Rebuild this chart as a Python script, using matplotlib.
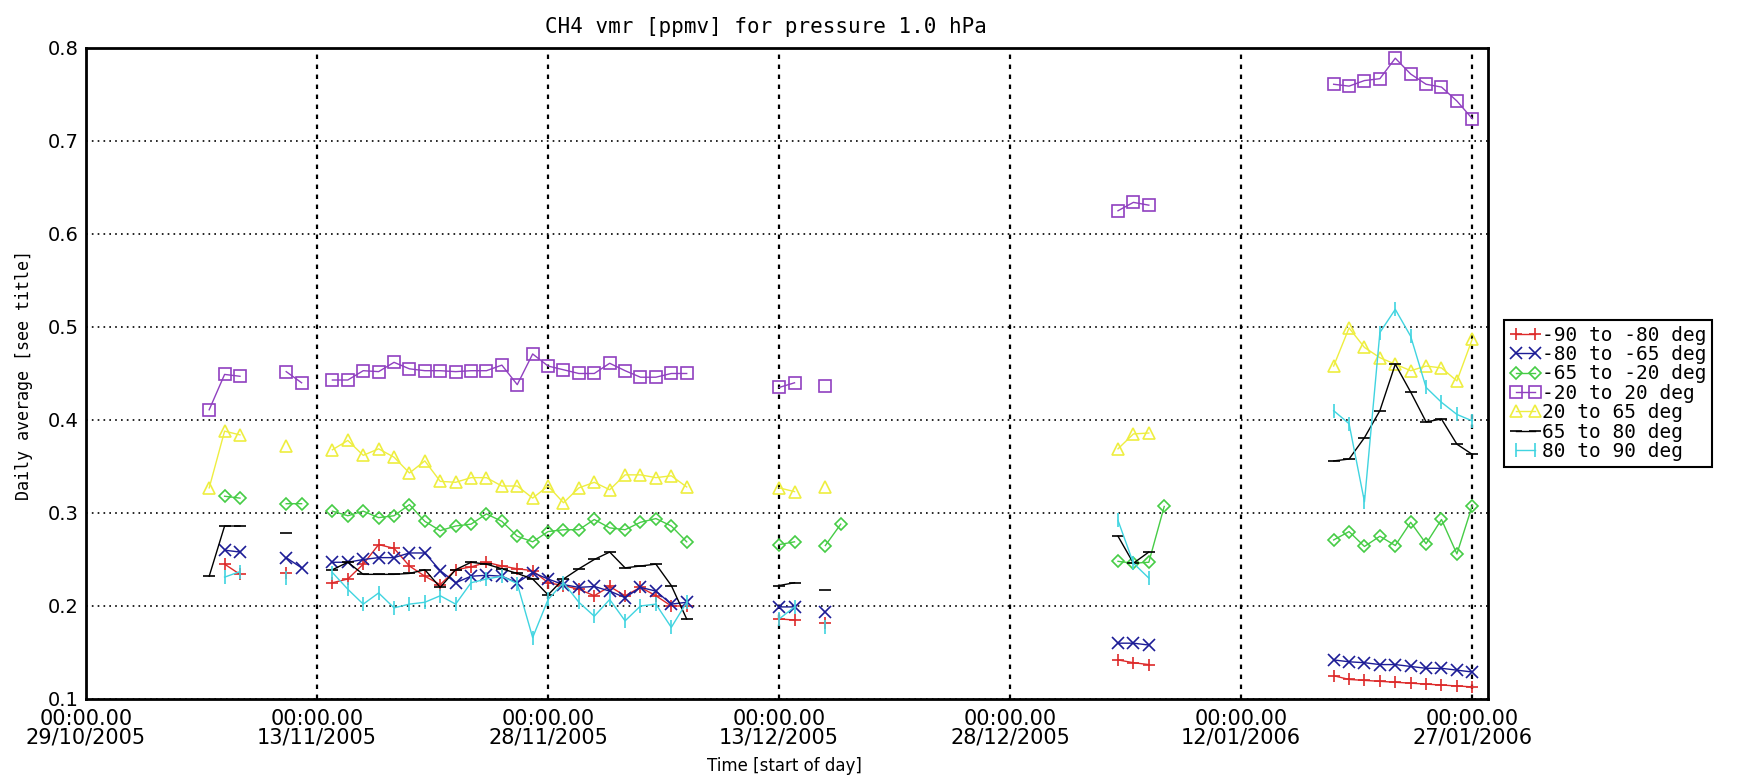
import numpy as np
import matplotlib
matplotlib.use('Agg')
import matplotlib.pyplot as plt

# Days counted from 29/10/2005 00:00
tick_days = [0, 15, 30, 45, 60, 75, 90]
tick_labels = ['00:00.00\n29/10/2005', '00:00.00\n13/11/2005', '00:00.00\n28/11/2005',
               '00:00.00\n13/12/2005', '00:00.00\n28/12/2005', '00:00.00\n12/01/2006',
               '00:00.00\n27/01/2006']
y_ticks = [0.1, 0.2, 0.3, 0.4, 0.5, 0.6, 0.7, 0.8]

nov = list(range(16, 40))
jan = list(range(81, 91))

# -90 to -80 deg
red_days = [9, 10, 13] + nov + [45, 46, 48, 67, 68, 69] + jan
red_vals = [0.245, 0.234, 0.236,
            0.225, 0.229, 0.245, 0.266, 0.262, 0.243, 0.232, 0.223, 0.239, 0.242,
            0.247, 0.243, 0.240, 0.238, 0.225, 0.222, 0.218, 0.211, 0.221, 0.211,
            0.220, 0.211, 0.200, 0.200,
            0.186, 0.185, 0.182, 0.142, 0.139, 0.137,
            0.125, 0.121, 0.120, 0.119, 0.118, 0.117, 0.116, 0.115, 0.114, 0.113]

# -80 to -65 deg
blue_days = [9, 10, 13, 14] + nov + [45, 46, 48, 67, 68, 69] + jan
blue_vals = [0.260, 0.258, 0.252, 0.241,
             0.247, 0.247, 0.250, 0.252, 0.252, 0.257, 0.257, 0.238, 0.225, 0.232,
             0.233, 0.232, 0.225, 0.236, 0.229, 0.223, 0.220, 0.221, 0.216, 0.209,
             0.220, 0.216, 0.202, 0.204,
             0.199, 0.199, 0.194, 0.160, 0.160, 0.158,
             0.142, 0.140, 0.139, 0.137, 0.137, 0.135, 0.133, 0.133, 0.131, 0.129]

# -65 to -20 deg
green_days = [9, 10, 13, 14] + nov + [45, 46, 48, 49, 67, 68, 69, 70] + jan
green_vals = [0.318, 0.316, 0.310, 0.310,
              0.302, 0.297, 0.302, 0.295, 0.297, 0.309, 0.291, 0.281, 0.286, 0.288,
              0.299, 0.291, 0.275, 0.269, 0.280, 0.282, 0.282, 0.293, 0.284, 0.282,
              0.290, 0.294, 0.286, 0.269,
              0.266, 0.269, 0.265, 0.288, 0.248, 0.246, 0.247, 0.307,
              0.271, 0.280, 0.264, 0.275, 0.265, 0.290, 0.267, 0.293, 0.256, 0.308]

# -20 to 20 deg
purple_days = [8, 9, 10, 13, 14] + nov + [45, 46, 48, 67, 68, 69] + jan
purple_vals = [0.411, 0.449, 0.447, 0.452, 0.440,
               0.443, 0.443, 0.453, 0.452, 0.462, 0.455, 0.453, 0.453, 0.452, 0.453,
               0.453, 0.459, 0.438, 0.471, 0.458, 0.454, 0.450, 0.450, 0.461, 0.453,
               0.446, 0.446, 0.450, 0.450,
               0.435, 0.440, 0.437, 0.625, 0.634, 0.631,
               0.761, 0.759, 0.765, 0.767, 0.789, 0.772, 0.761, 0.758, 0.743, 0.724]

# 20 to 65 deg
yellow_days = [8, 9, 10, 13] + nov + [45, 46, 48, 67, 68, 69] + jan
yellow_vals = [0.327, 0.388, 0.384, 0.372,
               0.368, 0.378, 0.362, 0.369, 0.360, 0.343, 0.356, 0.334, 0.333, 0.338,
               0.338, 0.329, 0.329, 0.316, 0.329, 0.311, 0.327, 0.333, 0.325, 0.341,
               0.341, 0.338, 0.340, 0.328,
               0.327, 0.323, 0.328, 0.369, 0.385, 0.386,
               0.458, 0.499, 0.478, 0.467, 0.460, 0.453, 0.458, 0.456, 0.442, 0.487]

# 65 to 80 deg
black_days = [8, 9, 10, 13] + nov + [45, 46, 48, 67, 68, 69] + jan
black_vals = [0.232, 0.286, 0.286, 0.278,
              0.239, 0.247, 0.234, 0.234, 0.234, 0.235, 0.239, 0.220, 0.239, 0.247,
              0.245, 0.240, 0.235, 0.229, 0.212, 0.229, 0.240, 0.250, 0.258, 0.241,
              0.243, 0.245, 0.222, 0.186,
              0.222, 0.225, 0.217, 0.275, 0.246, 0.258,
              0.356, 0.358, 0.381, 0.410, 0.460, 0.430, 0.398, 0.401, 0.374, 0.363]

# 80 to 90 deg
cyan_days = [9, 10, 13] + nov + [45, 46, 48, 67, 68, 69] + jan
cyan_vals = [0.231, 0.237, 0.230,
             0.236, 0.218, 0.202, 0.214, 0.198, 0.202, 0.204, 0.211, 0.202, 0.225,
             0.229, 0.232, 0.224, 0.166, 0.207, 0.225, 0.204, 0.189, 0.207, 0.184,
             0.200, 0.202, 0.177, 0.204,
             0.186, 0.199, 0.177, 0.292, 0.246, 0.230,
             0.410, 0.396, 0.312, 0.494, 0.519, 0.490, 0.435, 0.419, 0.406, 0.399]

series = [
    ('-90 to -80 deg', red_days, red_vals, '#dd2a2a', '+', 9),
    ('-80 to -65 deg', blue_days, blue_vals, '#1c1c96', 'x', 8),
    ('-65 to -20 deg', green_days, green_vals, '#46cc46', 'D', 6.5),
    ('-20 to 20 deg', purple_days, purple_vals, '#9040c0', 's', 8.5),
    ('20 to 65 deg', yellow_days, yellow_vals, '#eeee40', '^', 9),
    ('65 to 80 deg', black_days, black_vals, 'black', '_', 9),
    ('80 to 90 deg', cyan_days, cyan_vals, '#40d4e0', '|', 10),
]

MONO = 'DejaVu Sans Mono'


def split_gaps(days, vals):
    # IDL only joins consecutive days, so put a NaN into every gap
    xs, ys = [], []
    for i, (d, v) in enumerate(zip(days, vals)):
        if i > 0 and d - days[i - 1] > 1:
            xs.append(np.nan)
            ys.append(np.nan)
        xs.append(d)
        ys.append(v)
    return xs, ys


fig = plt.figure(figsize=(17.4, 7.83), dpi=100)
ax = fig.add_axes([0.0494, 0.1073, 0.8056, 0.8314])

for label, d, v, col, mk, ms in series:
    xs, ys = split_gaps(d, v)
    ax.plot(xs, ys, color=col, marker=mk, markersize=ms, markerfacecolor='none',
            markeredgecolor=col, markeredgewidth=1.2, linewidth=1.0, label=label)

ax.set_xlim(0, 91)
ax.set_ylim(0.1, 0.8)
ax.set_xticks(tick_days)
ax.set_xticklabels(tick_labels, fontsize=15, linespacing=0.9)
ax.set_yticks(y_ticks)
ax.set_yticklabels(['%.1f' % t for t in y_ticks], fontsize=14)
ax.tick_params(length=0)
ax.tick_params(axis='x', pad=7)
ax.tick_params(axis='y', pad=5)

# dotted grid: vertical lines are coarser than horizontal ones
ax.xaxis.grid(True, color='black', linestyle=(0, (2, 2.5)), linewidth=1.6)
ax.yaxis.grid(True, color='black', linestyle=(0, (1, 2.5)), linewidth=1.2)
for sp in ax.spines.values():
    sp.set_linewidth(2)

fig.text(0.440, 0.958, 'CH4 vmr [ppmv] for pressure 1.0 hPa', family=MONO,
         fontsize=15, ha='center', va='baseline')
fig.text(0.451, 0.0217, 'Time [start of day]', fontsize=12, ha='center', va='center')
fig.text(0.0138, 0.521, 'Daily average [see title]', family=MONO, fontsize=12,
         rotation=90, ha='center', va='center')

leg = fig.legend(loc='upper left', bbox_to_anchor=(0.8644, 0.5915),
                 prop={'family': MONO, 'size': 14},
                 numpoints=2, handlelength=1.6, handletextpad=0.05, labelspacing=0.02,
                 borderpad=0.3, borderaxespad=0, fancybox=False, edgecolor='black',
                 framealpha=1)
leg.get_frame().set_linewidth(1.5)

# the IDL legend box runs almost to the right edge of the image
fig.canvas.draw()
bb = leg.get_frame().get_bbox()
leg.get_frame().set_width(fig.bbox.width * 0.9985 - bb.x0)

fig.savefig('out.png', dpi=100)
